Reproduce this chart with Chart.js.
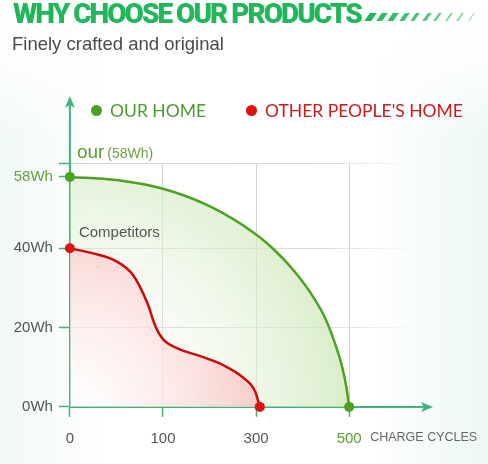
<!DOCTYPE html>
<html>
<head>
<meta charset="utf-8">
<script src="https://cdn.jsdelivr.net/npm/chart.js@4.4.1/dist/chart.umd.min.js"></script>
<style>
  html, body { margin: 0; padding: 0; }
  body {
    width: 488px; height: 464px; position: relative; overflow: hidden;
    font-family: "Liberation Sans", Arial, sans-serif;
    background:
      linear-gradient(180deg, #ffffff 0%, rgba(255,255,255,0.9) 12%, rgba(255,255,255,0) 30%),
      linear-gradient(90deg, #f0f9f6 0%, #ffffff 22%, #ffffff 76%, #ecf8f5 100%);
  }
  #chartBox { position: absolute; left: 0; top: 0; width: 488px; height: 464px; }
  #head {
    position: absolute; left: 13px; top: -3px; white-space: nowrap;
    font: 900 28px Roboto, sans-serif; color: #20b65a; letter-spacing: -2px;
  }
  #stripes { position: absolute; left: 367px; top: 13px; height: 8px; width: 120px; }
  #stripes span { position: absolute; top: 0; height: 8px; background: #20b65a; transform: skewX(-35deg); }
  #sub { position: absolute; left: 12px; top: 33px; font-size: 18.5px; color: #4a4a4a; }
  .leg { position: absolute; top: 100px; font: 17.5px Lato, sans-serif; white-space: nowrap; }
  .leg i { display: inline-block; width: 11px; height: 11px; border-radius: 50%; margin-right: 8px; vertical-align: 1px; }
</style>
</head>
<body>
<div id="chartBox"><canvas id="capacityChart" width="488" height="464"></canvas></div>
<div id="head">WHY CHOOSE OUR PRODUCTS</div>
<div id="stripes"></div>
<div id="sub">Finely crafted and original</div>
<div id="legend"></div>
<script>
// x positions are tick slots: 0 -> "0", 1 -> "100", 2 -> "300", 3 -> "500"
const xTickLabels = ['0', '100', '300', '500'];
const yTickValues = [0, 20, 40, 58];

const ourLabel = 'OUR HOME';
const ourX  = [0, 0.5, 1, 1.5, 2, 2.2, 2.4, 2.62, 2.75, 2.84, 2.92, 2.97, 3];
const ourWh = [58, 57.2, 55, 50.6, 43.5, 39.5, 34.5, 27.5, 22, 16.5, 10.5, 5, 0];

const otherLabel = "OTHER PEOPLE'S HOME";
const otherX  = [0, 0.25, 0.5, 0.68, 0.83, 0.92, 1, 1.15, 1.4, 1.65, 1.86, 1.99, 2.04];
const otherWh = [40, 38.7, 36.7, 33.2, 26.3, 20.3, 17.1, 14.8, 12.8, 10.5, 7.4, 3.9, 0];

const axisGreen = '#3db57a';
const ourGreen = '#4aa21e';
const otherRed = '#cc0a0a';

Chart.defaults.font.family = '"Liberation Sans", Arial, sans-serif';

// heading stripes, thinner to the right
const stripes = document.getElementById('stripes');
for (let i = 0; i < 10; i++) {
    const s = document.createElement('span');
    s.style.left = (i * 11.5) + 'px';
    s.style.width = Math.max(1.2, 7 - i * 0.65) + 'px';
    s.style.opacity = 1 - i * 0.05;
    stripes.appendChild(s);
}

function toPoints(xs, ys) {
    return xs.map((x, i) => ({ x: x, y: ys[i] }));
}

function radialFill(chart, r, stops) {
    const a = chart.chartArea;
    if (!a) return stops[stops.length - 1][1];
    const g = chart.ctx.createRadialGradient(a.left, a.bottom, 0, a.left, a.bottom, r);
    stops.forEach(s => g.addColorStop(s[0], s[1]));
    return g;
}

function fadeGrid(chart) {
    const a = chart.chartArea;
    if (!a) return '#dcdcdc';
    const g = chart.ctx.createLinearGradient(a.left, 0, a.right, 0);
    g.addColorStop(0, '#d6d6d6');
    g.addColorStop(0.75, '#dddddd');
    g.addColorStop(1, 'rgba(225,225,225,0)');
    return g;
}

const endDots = (c) => (c.dataIndex === 0 || c.dataIndex === c.dataset.data.length - 1) ? 5 : 0;

// arrows on the axes and the little text notes
const annotate = {
    id: 'annotate',
    afterDraw(chart) {
        const { ctx, chartArea: a, scales: { x, y } } = chart;
        ctx.save();
        ctx.strokeStyle = axisGreen;
        ctx.fillStyle = axisGreen;
        ctx.lineWidth = 2;

        const yTip = a.top - 67;
        ctx.beginPath(); ctx.moveTo(a.left, a.top); ctx.lineTo(a.left, yTip + 8); ctx.stroke();
        ctx.beginPath();
        ctx.moveTo(a.left, yTip); ctx.lineTo(a.left + 5, yTip + 12);
        ctx.lineTo(a.left, yTip + 9); ctx.lineTo(a.left - 5, yTip + 12);
        ctx.closePath(); ctx.fill();

        const xTip = a.right + 14;
        ctx.beginPath(); ctx.moveTo(a.right, a.bottom); ctx.lineTo(xTip - 8, a.bottom); ctx.stroke();
        ctx.beginPath();
        ctx.moveTo(xTip, a.bottom); ctx.lineTo(xTip - 12, a.bottom - 5);
        ctx.lineTo(xTip - 9, a.bottom); ctx.lineTo(xTip - 12, a.bottom + 5);
        ctx.closePath(); ctx.fill();

        const x0 = x.getPixelForValue(0);
        const yOur = y.getPixelForValue(ourWh[0]);
        ctx.textAlign = 'left';
        ctx.textBaseline = 'alphabetic';
        ctx.font = '19px "Liberation Sans", Arial';
        ctx.fillStyle = '#5b9a2b';
        ctx.fillText('our', x0 + 7, yOur - 19);
        const w = ctx.measureText('our').width;
        ctx.font = '14px "Liberation Sans", Arial';
        ctx.fillStyle = '#6ea345';
        ctx.fillText('(' + ourWh[0] + 'Wh)', x0 + 10 + w, yOur - 19);

        ctx.font = '15px "Liberation Sans", Arial';
        ctx.fillStyle = '#555555';
        ctx.fillText('Competitors', x0 + 9, y.getPixelForValue(otherWh[0]) - 11);

        ctx.font = '12.5px "Liberation Sans", Arial';
        ctx.fillStyle = '#666666';
        ctx.fillText('CHARGE CYCLES', x.getPixelForValue(3) + 21, a.bottom + 34);
        ctx.restore();
    }
};

const chart = new Chart(document.getElementById('capacityChart'), {
    type: 'line',
    data: {
        datasets: [{
            label: otherLabel,
            data: toPoints(otherX, otherWh),
            borderColor: otherRed,
            borderWidth: 2.5,
            pointRadius: endDots,
            pointBackgroundColor: '#e01010',
            pointBorderWidth: 0,
            cubicInterpolationMode: 'monotone',
            clip: false,
            fill: 'origin',
            backgroundColor: (c) => radialFill(c.chart, 200, [
                [0, 'rgba(255,255,255,0.55)'],
                [0.5, 'rgba(253,226,226,0.65)'],
                [1, 'rgba(250,192,192,0.85)']
            ])
        }, {
            label: ourLabel,
            data: toPoints(ourX, ourWh),
            borderColor: ourGreen,
            borderWidth: 2.5,
            pointRadius: endDots,
            pointBackgroundColor: ourGreen,
            pointBorderWidth: 0,
            cubicInterpolationMode: 'monotone',
            clip: false,
            fill: 'origin',
            backgroundColor: (c) => radialFill(c.chart, 300, [
                [0, 'rgba(255,255,255,0)'],
                [0.45, 'rgba(232,244,222,0.35)'],
                [0.95, 'rgba(205,232,185,0.8)']
            ])
        }]
    },
    options: {
        responsive: false,
        animation: false,
        layout: { padding: { top: 163, left: 7.7, right: 69, bottom: 4.1 } },
        plugins: { legend: { display: false }, tooltip: { enabled: false } },
        scales: {
            x: {
                type: 'linear',
                min: 0,
                max: 3.75,
                afterBuildTicks: (s) => { s.ticks = xTickLabels.map((t, i) => ({ value: i })); },
                ticks: {
                    callback: (v, i) => xTickLabels[i],
                    color: (c) => c.index === xTickLabels.length - 1 ? '#5a9e2e' : '#555555',
                    font: { size: 15 },
                    padding: 12.5,
                    autoSkip: false,
                    maxRotation: 0
                },
                grid: {
                    color: (c) => c.index === 0 ? 'rgba(0,0,0,0)' : '#d4d4d4',
                    tickColor: axisGreen,
                    tickLength: 10,
                    tickWidth: 1.5
                },
                border: { color: axisGreen, width: 2 }
            },
            y: {
                min: 0,
                max: 61.5,
                afterBuildTicks: (s) => { s.ticks = yTickValues.concat([61.5]).map(v => ({ value: v })); },
                ticks: {
                    callback: (v, i) => i < yTickValues.length ? yTickValues[i] + 'Wh' : '',
                    color: (c) => c.tick && c.tick.value === 58 ? '#6a9d3f' : '#555555',
                    font: { size: 15 },
                    padding: 6
                },
                grid: {
                    color: (c) => (c.tick && (c.tick.value === 0 || c.tick.value === 58)) ? 'rgba(0,0,0,0)' : fadeGrid(c.chart),
                    tickColor: axisGreen,
                    tickLength: 11,
                    tickWidth: 1.5
                },
                border: { color: axisGreen, width: 2 }
            }
        }
    },
    plugins: [annotate]
});

// legend in the page, built from the datasets: our home first
const legend = document.getElementById('legend');
[[chart.data.datasets[1], 91], [chart.data.datasets[0], 246]].forEach(([ds, left]) => {
    const item = document.createElement('div');
    item.className = 'leg';
    item.style.left = left + 'px';
    item.style.color = ds.borderColor === ourGreen ? '#4d9c2e' : '#cc1b1b';
    item.innerHTML = '<i style="background:' + (ds.borderColor === ourGreen ? ourGreen : '#e01010') + '"></i>';
    item.appendChild(document.createTextNode(ds.label));
    legend.appendChild(item);
});
</script>
</body>
</html>
